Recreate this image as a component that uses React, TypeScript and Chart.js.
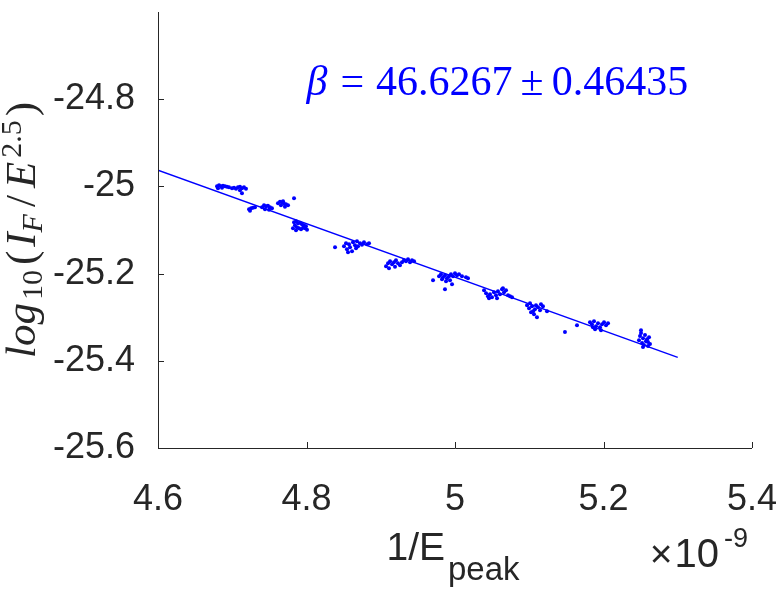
import React, { useEffect, useRef } from 'react';
import { Chart, registerables } from 'chart.js';

Chart.register(...registerables);

// 1/E_peak (units of 1e-9)
const invEpeak: number[] = [
  4.6795, 4.6822, 4.6848, 4.6875, 4.6902, 4.6929, 4.6956, 4.6808, 4.6862, 4.6997, 4.7024, 4.7051, 4.7077, 4.7104, 4.7131, 4.7158, 4.7185, 4.7104, 4.7131,
  4.7226, 4.7253, 4.7279, 4.7306, 4.7239,
  4.7401, 4.7428, 4.7455, 4.7481, 4.7508, 4.7535, 4.7441, 4.7495,
  4.7616, 4.7643, 4.7670, 4.7697, 4.7724, 4.7751, 4.7656, 4.7710, 4.7684, 4.7832,
  4.7832, 4.7859, 4.7886, 4.7912, 4.7939, 4.7966, 4.7993, 4.7845, 4.7872, 4.7899, 4.7926, 4.7953, 4.7859, 4.7980, 4.8007, 4.7818,
  4.8384,
  4.8505, 4.8532, 4.8545, 4.8572, 4.8586, 4.8613, 4.8626, 4.8653, 4.8680, 4.8694, 4.8721, 4.8747, 4.8774, 4.8815, 4.8842, 4.8559, 4.8667,
  4.9071, 4.9098, 4.9125, 4.9152, 4.9178, 4.9205, 4.9232, 4.9259, 4.9286, 4.9313, 4.9340, 4.9367, 4.9394, 4.9421, 4.9448, 4.9192, 4.9111,
  4.9704, 4.9785, 4.9811, 4.9838, 4.9865, 4.9892, 4.9919, 4.9946, 4.9973, 5.0000, 5.0027, 5.0054, 5.0094, 5.0148, 5.0175, 4.9825, 4.9879, 4.9933, 4.9865, 4.9960,
  5.0391, 5.0418, 5.0444, 5.0471, 5.0498, 5.0525, 5.0552, 5.0579, 5.0606, 5.0633, 5.0660, 5.0687, 5.0714, 5.0741, 5.0768, 5.0458, 5.0566, 5.0646,
  5.0970, 5.0997, 5.1010, 5.1037, 5.1051, 5.1064, 5.1077, 5.1091, 5.1118, 5.1145, 5.1158, 5.1185, 5.1104, 5.1024, 5.1239,
  5.1481, 5.1643,
  5.1818, 5.1845, 5.1872, 5.1899, 5.1926, 5.1953, 5.1980, 5.2007, 5.2034, 5.2061, 5.1886, 5.1966, 5.1858,
  5.2478, 5.2492, 5.2505, 5.2519, 5.2532, 5.2545, 5.2559, 5.2572, 5.2586, 5.2599, 5.2613, 5.2626, 5.2505, 5.2532, 5.2599,
];

// log10(I_F / E^2.5)
const logRatio: number[] = [
  -24.9998, -24.9975, -24.9998, -24.9986, -24.9998, -25.0009, -25.0020, -25.0043, -25.0032, -25.0043, -25.0032, -25.0055, -25.0020, -25.0009, -25.0043, -25.0020, -25.0055, -25.0089, -25.0158,
  -25.0525, -25.0502, -25.0490, -25.0479, -25.0559,
  -25.0479, -25.0433, -25.0456, -25.0444, -25.0479, -25.0502, -25.0525, -25.0536,
  -25.0387, -25.0353, -25.0364, -25.0398, -25.0410, -25.0433, -25.0433, -25.0467, -25.0341, -25.0272,
  -25.0822, -25.0799, -25.0845, -25.0834, -25.0868, -25.0891, -25.0914, -25.0891, -25.0937, -25.0960, -25.0983, -25.0949, -25.1006, -25.0960, -25.0994, -25.0960,
  -25.1395,
  -25.1372, -25.1303, -25.1441, -25.1326, -25.1395, -25.1487, -25.1281, -25.1349, -25.1258, -25.1372, -25.1303, -25.1338, -25.1281, -25.1326, -25.1303, -25.1510, -25.1418,
  -25.1830, -25.1762, -25.1716, -25.1784, -25.1739, -25.1693, -25.1762, -25.1807, -25.1739, -25.1693, -25.1716, -25.1670, -25.1739, -25.1693, -25.1716, -25.1842, -25.1876,
  -25.2151, -25.2059, -25.2014, -25.2082, -25.2036, -25.2105, -25.2059, -25.2014, -25.2059, -25.1991, -25.2036, -25.2014, -25.2059, -25.2082, -25.2105, -25.2128, -25.2174, -25.2151, -25.2357, -25.2243,
  -25.2380, -25.2449, -25.2518, -25.2472, -25.2541, -25.2426, -25.2495, -25.2403, -25.2472, -25.2357, -25.2426, -25.2380, -25.2495, -25.2518, -25.2541, -25.2564, -25.2564, -25.2334,
  -25.2724, -25.2793, -25.2678, -25.2747, -25.2861, -25.2930, -25.2815, -25.2724, -25.2770, -25.2838, -25.2701, -25.2747, -25.2999, -25.2884, -25.2861,
  -25.3342, -25.3182,
  -25.3113, -25.3159, -25.3091, -25.3205, -25.3136, -25.3228, -25.3159, -25.3113, -25.3182, -25.3136, -25.3274, -25.3297, -25.3228,
  -25.3526, -25.3434, -25.3365, -25.3594, -25.3480, -25.3640, -25.3411, -25.3549, -25.3503, -25.3571, -25.3457, -25.3617, -25.3297, -25.3686, -25.3663,
];

// fitted line end points
const fitX: number[] = [4.6, 5.3];
const fitY: number[] = [-24.963, -25.392];

const xTickValues: number[] = [4.6, 4.8, 5.0, 5.2, 5.4];
const xTickLabels: string[] = ['4.6', '4.8', '5', '5.2', '5.4'];
const yTickValues: number[] = [-25.6, -25.4, -25.2, -25.0, -24.8];
const yTickLabels: string[] = ['-25.6', '-25.4', '-25.2', '-25', '-24.8'];

const betaText = { symbol: 'β', value: '46.6267', error: '0.46435' };

const AXIS_COLOR = '#262626';
const BLUE = '#0000ff';
const SANS = '"Liberation Sans", Arial, Helvetica, sans-serif';
const SERIF = '"Liberation Serif", "Times New Roman", serif';

type Piece = { t: string; f: string; dy?: number; gap?: number };

function drawPieces(ctx: CanvasRenderingContext2D, pieces: Piece[], x: number, y: number) {
  let cx = x;
  for (const p of pieces) {
    ctx.font = p.f;
    ctx.fillText(p.t, cx, y + (p.dy || 0));
    cx += ctx.measureText(p.t).width + (p.gap || 0);
  }
}
function piecesWidth(ctx: CanvasRenderingContext2D, pieces: Piece[]) {
  let w = 0;
  pieces.forEach((p, i) => {
    ctx.font = p.f;
    w += ctx.measureText(p.t).width + (i < pieces.length - 1 ? p.gap || 0 : 0);
  });
  return w;
}

const decorPlugin = {
  id: 'decor',
  afterDraw(chart: any) {
    const ctx: CanvasRenderingContext2D = chart.ctx;
    const ca = chart.chartArea;
    const xs = chart.scales.x;
    const ys = chart.scales.y;
    ctx.save();
    // axes lines
    ctx.strokeStyle = AXIS_COLOR;
    ctx.lineWidth = 1;
    ctx.beginPath();
    ctx.moveTo(Math.round(ca.left) + 0.5, ca.top);
    ctx.lineTo(Math.round(ca.left) + 0.5, Math.round(ca.bottom) + 0.5);
    ctx.lineTo(ca.right, Math.round(ca.bottom) + 0.5);
    ctx.stroke();
    // inward ticks
    ctx.beginPath();
    xs.ticks.forEach((t: any) => {
      const px = Math.round(xs.getPixelForValue(t.value)) + 0.5;
      ctx.moveTo(px, ca.bottom);
      ctx.lineTo(px, ca.bottom - 6);
    });
    ys.ticks.forEach((t: any) => {
      const py = Math.round(ys.getPixelForValue(t.value)) + 0.5;
      ctx.moveTo(ca.left, py);
      ctx.lineTo(ca.left + 6, py);
    });
    ctx.stroke();

    ctx.fillStyle = AXIS_COLOR;
    ctx.textBaseline = 'alphabetic';
    ctx.textAlign = 'left';

    // x label: 1/E_peak
    const xl: Piece[] = [
      { t: '1/E', f: `39px ${SANS}`, gap: 3 },
      { t: 'peak', f: `33px ${SANS}`, dy: 20 },
    ];
    const xlw = piecesWidth(ctx, xl);
    drawPieces(ctx, xl, (ca.left + ca.right) / 2 - xlw / 2 - 2, ca.bottom + 112);

    // exponent label ×10^-9
    const ex: Piece[] = [
      { t: '×', f: `39px ${SANS}`, gap: 2 },
      { t: '10', f: `40px ${SANS}`, gap: 5 },
      { t: '-9', f: `27px ${SANS}`, dy: -20 },
    ];
    const exw = piecesWidth(ctx, ex);
    drawPieces(ctx, ex, ca.right - 4 - exw, ca.bottom + 119);

    // y label: log10(I_F/E^2.5)
    ctx.save();
    ctx.translate(35, (ca.top + ca.bottom) / 2);
    ctx.rotate(-Math.PI / 2);
    const yl: Piece[] = [
      { t: 'log', f: `italic 43px ${SERIF}`, gap: 3 },
      { t: '10', f: `30px ${SERIF}`, dy: 7, gap: 5 },
      { t: '(', f: `43px ${SERIF}`, gap: 4 },
      { t: 'I', f: `italic 43px ${SERIF}`, gap: 0 },
      { t: 'F', f: `italic 30px ${SERIF}`, dy: 7, gap: 7 },
      { t: '/', f: `43px ${SERIF}`, gap: 7 },
      { t: 'E', f: `italic 43px ${SERIF}`, gap: 4 },
      { t: '2.5', f: `30px ${SERIF}`, dy: -14, gap: 4 },
      { t: ')', f: `43px ${SERIF}` },
    ];
    const ylw = piecesWidth(ctx, yl);
    drawPieces(ctx, yl, -ylw / 2, 0);
    ctx.restore();

    // annotation
    ctx.fillStyle = BLUE;
    const an: Piece[] = [
      { t: betaText.symbol, f: `italic 42px ${SERIF}`, gap: 13 },
      { t: '=', f: `42px ${SERIF}`, gap: 12 },
      { t: betaText.value, f: `42px ${SERIF}`, gap: 8 },
      { t: '±', f: `42px ${SERIF}`, gap: 8 },
      { t: betaText.error, f: `42px ${SERIF}` },
    ];
    drawPieces(ctx, an, xs.getPixelForValue(4.8), ys.getPixelForValue(-24.79));
    ctx.restore();
  },
};

export default function App() {
  const canvasRef = useRef<HTMLCanvasElement | null>(null);

  useEffect(() => {
    const canvas = canvasRef.current;
    if (!canvas) return;
    const points = invEpeak.map((x, i) => ({ x, y: logRatio[i] }));
    const fitPts = fitX.map((x, i) => ({ x, y: fitY[i] }));
    const tickFont = { family: SANS, size: 36 };
    const chart = new Chart(canvas, {
      type: 'scatter',
      data: {
        datasets: [
          {
            data: fitPts,
            showLine: true,
            borderColor: BLUE,
            borderWidth: 1.4,
            pointRadius: 0,
            fill: false,
          } as any,
          {
            data: points,
            pointRadius: 2,
            pointBorderWidth: 0,
            pointBackgroundColor: BLUE,
            borderColor: BLUE,
            backgroundColor: BLUE,
          } as any,
        ],
      },
      options: {
        responsive: false,
        animation: false,
        devicePixelRatio: 1,
        layout: { padding: { left: 0, top: 12, right: 29, bottom: 0 } },
        plugins: { legend: { display: false }, tooltip: { enabled: false } },
        scales: {
          x: {
            type: 'linear',
            min: 4.6,
            max: 5.4,
            grid: { display: false },
            border: { display: false },
            ticks: {
              font: tickFont,
              color: AXIS_COLOR,
              padding: 22,
              maxRotation: 0,
              autoSkip: false,
              callback: (_v: any, i: number) => xTickLabels[i],
            },
            afterBuildTicks: (s: any) => {
              s.ticks = xTickValues.map((v) => ({ value: v }));
            },
            afterFit: (s: any) => {
              s.height = 144;
              s.paddingLeft = 0;
              s.paddingRight = 0;
            },
          },
          y: {
            type: 'linear',
            min: -25.6,
            max: -24.6,
            grid: { display: false },
            border: { display: false },
            ticks: {
              font: tickFont,
              color: AXIS_COLOR,
              padding: 15,
              autoSkip: false,
              callback: (_v: any, i: number) => yTickLabels[i],
            },
            afterBuildTicks: (s: any) => {
              s.ticks = yTickValues.map((v) => ({ value: v }));
            },
            afterFit: (s: any) => {
              s.width = 158;
              s.paddingTop = 0;
              s.paddingBottom = 0;
            },
          },
        },
      } as any,
      plugins: [decorPlugin],
    });
    return () => chart.destroy();
  }, []);

  return (
    <div style={{ position: 'absolute', left: 0, top: 0, width: 781, height: 592, background: '#fff' }}>
      <canvas ref={canvasRef} width={781} height={592} style={{ width: 781, height: 592, display: 'block' }} />
    </div>
  );
}
